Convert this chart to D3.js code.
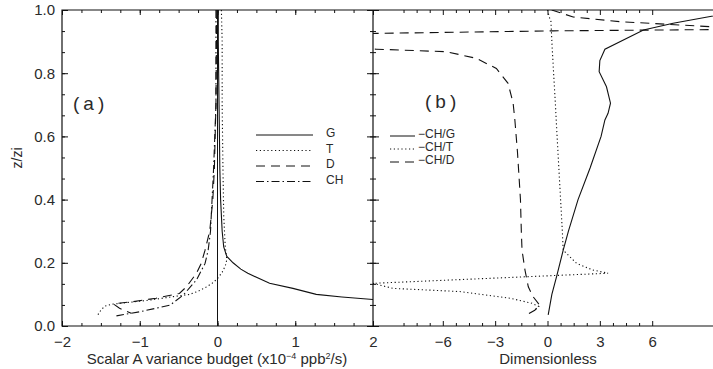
<!DOCTYPE html>
<html>
<head>
<meta charset="utf-8">
<script src="https://cdn.jsdelivr.net/npm/d3@7"></script>
<style>
  body { margin: 0; background: #fff; }
  svg text { font-family: "Liberation Sans", Arial, sans-serif; fill: #2a2a2a; }
  .tick line { stroke: #111; }
  .domain { display: none; }
</style>
</head>
<body>
<div id="chart"></div>
<script>
// ---- panel (a): variance budget terms, x in 1e-4 ppb^2/s, z in z/zi
const gZ = [1.0, 0.9, 0.8, 0.7, 0.6, 0.5, 0.4, 0.3, 0.25, 0.22, 0.2, 0.18, 0.167, 0.135, 0.119, 0.10, 0.092, 0.083];
const gX = [0.01, 0.01, 0.015, 0.02, 0.025, 0.03, 0.04, 0.06, 0.08, 0.12, 0.2, 0.3, 0.39, 0.67, 0.97, 1.27, 1.6, 2.05];
const tZ = [1.0, 0.9, 0.7, 0.5, 0.35, 0.25, 0.21, 0.19, 0.17, 0.15, 0.135, 0.124, 0.11, 0.10, 0.093, 0.082, 0.074, 0.069, 0.063, 0.05, 0.035];
const tX = [0.05, 0.06, 0.06, 0.07, 0.08, 0.1, 0.12, 0.1, 0.06, 0.0, -0.07, -0.14, -0.25, -0.36, -0.57, -0.87, -1.17, -1.36, -1.45, -1.5, -1.54];
const dZ = [1.0, 0.7, 0.5, 0.4, 0.3, 0.24, 0.198, 0.167, 0.124, 0.103, 0.088, 0.077, 0.07, 0.056, 0.04];
const dX = [-0.01, -0.02, -0.04, -0.06, -0.1, -0.16, -0.21, -0.27, -0.4, -0.49, -0.79, -1.09, -1.34, -1.26, -1.11];
const chZ = [1.0, 0.7, 0.5, 0.4, 0.3, 0.24, 0.198, 0.146, 0.098, 0.066, 0.045, 0.032];
const chX = [-0.02, -0.02, -0.05, -0.07, -0.09, -0.12, -0.16, -0.27, -0.44, -0.61, -1.0, -1.3];

// ---- panel (b): dimensionless ratios
const rgZ = [0.035, 0.1, 0.156, 0.24, 0.3, 0.4, 0.5, 0.6, 0.652, 0.673, 0.705, 0.757, 0.805, 0.84, 0.876, 0.937, 0.958, 0.98, 1.0];
const rgX = [0.04, 0.25, 0.52, 0.9, 1.2, 1.75, 2.44, 3.07, 3.29, 3.47, 3.61, 3.38, 2.96, 3.0, 3.29, 5.5, 7.2, 9.4, 11.5];
const rtZ = [1.0, 0.978, 0.963, 0.9, 0.8, 0.705, 0.63, 0.5, 0.4, 0.3, 0.24, 0.198, 0.177, 0.167, 0.135, 0.119, 0.109, 0.088, 0.072, 0.062, 0.05];
const rtX = [0.0, 0.1, 0.2, 0.25, 0.35, 0.45, 0.52, 0.65, 0.75, 0.85, 0.9, 1.67, 2.6, 3.47, -10.0, -8.85, -5.03, -2.16, -0.9, -0.5, -0.75];
const rdZ = [1.0, 0.978, 0.963, 0.947, 0.943, 0.938, 0.934, 0.926, 0.92, 0.88, 0.876, 0.868, 0.847, 0.815, 0.768, 0.705, 0.652, 0.55, 0.4, 0.3, 0.24, 0.177, 0.124, 0.093, 0.066, 0.05, 0.035];
const rdX = [0.24, 1.47, 4.15, 9.4, 12, 9.5, 0.32, -9.8, -12, -12, -9.8, -5.8, -4.08, -2.93, -2.26, -1.97, -1.87, -1.72, -1.55, -1.5, -1.46, -1.29, -1.1, -0.83, -0.45, -0.73, -1.2];

const yMajor = [0, 0.2, 0.4, 0.6, 0.8, 1.0];
const xMajorA = [-2, -1, 0, 1, 2];
const xMajorB = [-6, -3, 0, 3, 6];
const legendA = ['G', 'T', 'D', 'CH'];
const legendB = ['\u2212CH/G', '\u2212CH/T', '\u2212CH/D'];

const W = 713, H = 369;
const dashes = { solid: null, dot: '1.2,2.6', dash: '9,6', dashdot: '8,3,1.5,3' };

const svg = d3.select('#chart').append('svg')
  .attr('width', W).attr('height', H);

const y = d3.scaleLinear().domain([0, 1]).range([326, 10]);
const xa = d3.scaleLinear().domain([-2, 2]).range([62, 373]);
const xb = d3.scaleLinear().domain([-10, 10]).range([373, 722]);

const yMinor = d3.range(0, 1.0001, 1 / 15);
const xMinorA = d3.range(-2, 2.001, 0.25);
const xMinorB = d3.range(-8.25, 6.01, 0.75).filter(v => Math.abs(v / 3 - Math.round(v / 3)) > 0.01);

const defs = svg.append('defs');
defs.append('clipPath').attr('id', 'clipA').append('rect')
  .attr('x', 62).attr('y', 10).attr('width', 311).attr('height', 316);
defs.append('clipPath').attr('id', 'clipB').append('rect')
  .attr('x', 373).attr('y', 10).attr('width', 360).attr('height', 316);

function drawAxes(x, xMajor, xMinor, left, right, showYLabels, rightTicksInward) {
  // bottom
  svg.append('g').attr('transform', `translate(0,${y(0)})`)
    .call(d3.axisBottom(x).tickValues(xMajor).tickSize(-5).tickPadding(10).tickFormat(d3.format('d')))
    .call(g => g.selectAll('text').attr('font-size', 15));
  svg.append('g').attr('transform', `translate(0,${y(0)})`)
    .call(d3.axisBottom(x).tickValues(xMinor).tickSize(-3).tickFormat(''));
  // top
  svg.append('g').attr('transform', `translate(0,${y(1)})`)
    .call(d3.axisTop(x).tickValues(xMajor).tickSize(-5).tickFormat(''));
  svg.append('g').attr('transform', `translate(0,${y(1)})`)
    .call(d3.axisTop(x).tickValues(xMinor).tickSize(-3).tickFormat(''));
  // left
  const ax = d3.axisLeft(y).tickValues(yMajor).tickSize(-6).tickPadding(7)
    .tickFormat(showYLabels ? d3.format('.1f') : '');
  svg.append('g').attr('transform', `translate(${left},0)`).call(ax)
    .call(g => g.selectAll('text').attr('font-size', 15));
  svg.append('g').attr('transform', `translate(${left},0)`)
    .call(d3.axisLeft(y).tickValues(yMinor).tickSize(-3).tickFormat(''));
  // right
  if (rightTicksInward) {
    svg.append('g').attr('transform', `translate(${right},0)`)
      .call(d3.axisRight(y).tickValues(yMajor).tickSize(-6).tickFormat(''));
    svg.append('g').attr('transform', `translate(${right},0)`)
      .call(d3.axisRight(y).tickValues(yMinor).tickSize(-3).tickFormat(''));
  }
}

drawAxes(xa, xMajorA, xMinorA, 62, 373, true, true);
drawAxes(xb, xMajorB, xMinorB, 373, 722, false, false);

// frames
svg.append('path')
  .attr('d', `M${xb(10)},${y(1)}H62V${y(0)}H${xb(10)}M373,${y(1)}V${y(0)}`)
  .attr('fill', 'none').attr('stroke', '#111').attr('stroke-width', 1.2);

function curve(g, x, xs, zs, style) {
  const data = zs.map((z, i) => ({ z, v: xs[i] }));
  g.append('path').datum(data)
    .attr('fill', 'none').attr('stroke', '#111').attr('stroke-width', 1.1)
    .attr('stroke-dasharray', dashes[style])
    .attr('d', d3.line().x(d => x(d.v)).y(d => y(d.z)));
}

const ga = svg.append('g').attr('clip-path', 'url(#clipA)');
// zero reference line
ga.append('line')
  .attr('x1', xa(0)).attr('x2', xa(0)).attr('y1', y(0)).attr('y2', y(1))
  .attr('stroke', '#111').attr('stroke-width', 1);
curve(ga, xa, gX, gZ, 'solid');
curve(ga, xa, tX, tZ, 'dot');
curve(ga, xa, dX, dZ, 'dash');
curve(ga, xa, chX, chZ, 'dashdot');

const gb = svg.append('g').attr('clip-path', 'url(#clipB)');
curve(gb, xb, rgX, rgZ, 'solid');
curve(gb, xb, rtX, rtZ, 'dot');
curve(gb, xb, rdX, rdZ, 'dash');

// legends
const stylesA = ['solid', 'dot', 'dash', 'dashdot'];
legendA.forEach((name, i) => {
  const ly = 135 + i * 15.5;
  svg.append('line').attr('x1', 256).attr('x2', 313).attr('y1', ly).attr('y2', ly)
    .attr('stroke', '#111').attr('stroke-width', 1).attr('stroke-dasharray', dashes[stylesA[i]]);
  svg.append('text').attr('x', 326).attr('y', ly + 2).attr('font-size', 12).text(name);
});
const stylesB = ['solid', 'dot', 'dash'];
legendB.forEach((name, i) => {
  const ly = 136 + i * 13;
  svg.append('line').attr('x1', 390).attr('x2', 415).attr('y1', ly).attr('y2', ly)
    .attr('stroke', '#111').attr('stroke-width', 1).attr('stroke-dasharray', dashes[stylesB[i]]);
  svg.append('text').attr('x', 418).attr('y', ly + 2).attr('font-size', 12).text(name);
});

// panel tags
svg.append('text').attr('x', 73).attr('y', 110).attr('font-size', 19)
  .attr('letter-spacing', 4).text('(a)');
svg.append('text').attr('x', 425).attr('y', 108).attr('font-size', 19)
  .attr('letter-spacing', 4).text('(b)');

// axis titles
const t1 = svg.append('text').attr('x', 217).attr('y', 364)
  .attr('text-anchor', 'middle').attr('font-size', 15);
t1.append('tspan').text('Scalar A variance budget (x10');
t1.append('tspan').attr('dy', -5).attr('font-size', 9).text('\u22124');
t1.append('tspan').attr('dy', 5).text(' ppb');
t1.append('tspan').attr('dy', -5).attr('font-size', 9).text('2');
t1.append('tspan').attr('dy', 5).text('/s)');

svg.append('text').attr('x', 548).attr('y', 364)
  .attr('text-anchor', 'middle').attr('font-size', 15).text('Dimensionless');

svg.append('text')
  .attr('transform', 'translate(22,158) rotate(-90)')
  .attr('text-anchor', 'middle').attr('font-size', 14).text('z/zi');
</script>
</body>
</html>
